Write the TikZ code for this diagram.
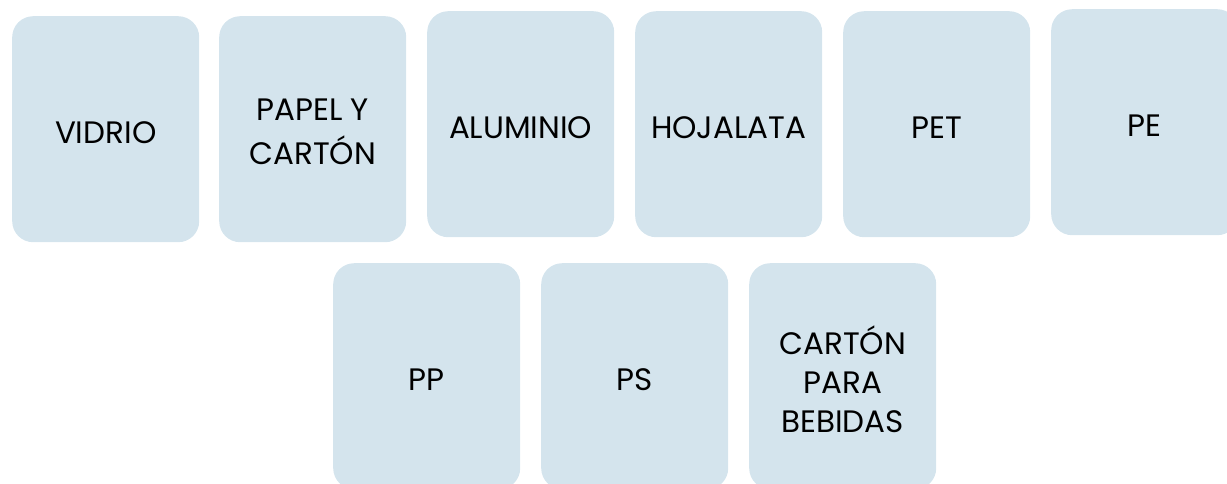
\documentclass[tikz,border=0pt]{standalone}
\usepackage{fontspec}
\setmainfont{Poppins}
\definecolor{cardfill}{RGB}{212,228,237}
\begin{document}
\begin{tikzpicture}[x=1pt,y=-1pt,
  card/.style={fill=cardfill, draw=none, rounded corners=21pt, anchor=north west,
    minimum width=187pt, minimum height=226pt, inner sep=0pt},
  cardtext/.style={align=center, inner sep=0pt, yshift=-3pt,
    font=\fontsize{31}{39}\selectfont, text=black}]
\useasboundingbox (0,0) rectangle (1227,483);
\begin{scope}
\clip (0,0) rectangle (1227,483);
\node[card] (vidrio) at (12,16) {};
\node[card] (papel) at (219,16) {};
\node[card] (aluminio) at (427,11) {};
\node[card] (hojalata) at (635,11) {};
\node[card] (pet) at (843,11) {};
\node[card] (pe) at (1051,9) {};
\node[card] (pp) at (333,263) {};
\node[card] (ps) at (541,263) {};
\node[card] (carton) at (749,263) {};
\end{scope}
\node[cardtext] (tvidrio) at (vidrio.center) {VIDRIO};
\node[cardtext] (tpapel) at (papel.center) {PAPEL Y\\[5pt]CARTÓN};
\node[cardtext] (taluminio) at (aluminio.center) {ALUMINIO};
\node[cardtext] (thojalata) at (hojalata.center) {HOJALATA};
\node[cardtext] (tpet) at (pet.center) {PET};
\node[cardtext] (tpe) at (pe.center) {PE};
\node[cardtext] (tpp) at (pp.center) {PP};
\node[cardtext] (tps) at (ps.center) {PS};
\node[cardtext] (tcarton) at (carton.center) {CARTÓN\\PARA\\BEBIDAS};
\end{tikzpicture}
\end{document}
